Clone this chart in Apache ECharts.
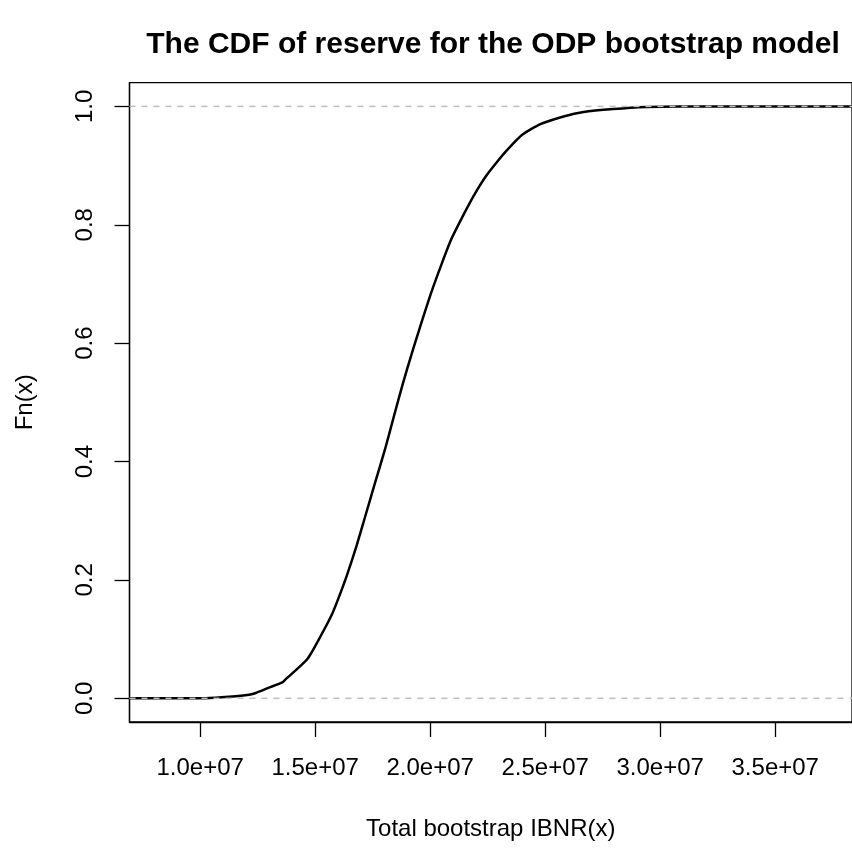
<!DOCTYPE html>
<html>
<head>
<meta charset="utf-8">
<script src="https://cdn.jsdelivr.net/npm/echarts@6/dist/echarts.min.js"></script>
<style>html,body{margin:0;padding:0;background:#fff;}#c{width:852px;height:849px;}</style>
</head>
<body>
<div id="c"></div>
<script>
// Data (x in units of 1e7)
var cdfX = [0.6926, 0.95, 1.04, 1.155, 1.213, 1.242, 1.299, 1.357, 1.371, 1.465, 1.522, 1.573, 1.600, 1.637, 1.680, 1.724, 1.760, 1.803, 1.846, 1.882, 1.925, 1.958, 2.004, 2.047, 2.091, 2.149, 2.192, 2.242, 2.292, 2.336, 2.400, 2.479, 2.580, 2.667, 2.796, 2.940, 3.084, 3.8338];
var cdfY = [0, 0, 0.0005, 0.0034, 0.006, 0.009, 0.018, 0.027, 0.032, 0.066, 0.104, 0.142, 0.168, 0.207, 0.258, 0.316, 0.364, 0.420, 0.482, 0.533, 0.589, 0.630, 0.685, 0.731, 0.775, 0.820, 0.851, 0.882, 0.907, 0.927, 0.952, 0.970, 0.983, 0.9905, 0.9955, 0.999, 1.0, 1.0];
var xTicks = [1.0e7, 1.5e7, 2.0e7, 2.5e7, 3.0e7, 3.5e7];
var xTickLabels = ['1.0e+07', '1.5e+07', '2.0e+07', '2.5e+07', '3.0e+07', '3.5e+07'];
var yTicks = [0, 0.2, 0.4, 0.6, 0.8, 1.0];
var yTickLabels = ['0.0', '0.2', '0.4', '0.6', '0.8', '1.0'];
var hLines = [0, 1];
var xMin = 0.6926e7, xMax = 3.8338e7, yMin = -0.04, yMax = 1.04;

var FONT = 'Liberation Sans, Arial, Helvetica, sans-serif';
var chart = echarts.init(document.getElementById('c'), null, {renderer: 'canvas'});
var lineData = cdfX.map(function (x, i) { return [x * 1e7, cdfY[i]]; });
var labelMap = {};
xTicks.forEach(function (v, i) { labelMap[v] = xTickLabels[i]; });

var series = [{
  type: 'line',
  data: lineData,
  showSymbol: false,
  smooth: 0.2,
  lineStyle: {color: '#000', width: 2.5},
  z: 2,
  silent: true
}];
hLines.forEach(function (h) {
  series.push({
    type: 'line',
    data: [[xMin, h], [xMax, h]],
    showSymbol: false,
    lineStyle: {color: '#bebebe', width: 1.5, type: [6, 6]},
    z: 3,
    silent: true
  });
});

chart.setOption({
  animation: false,
  backgroundColor: '#fff',
  graphic: [{
    type: 'text',
    x: 493, y: 45,
    style: {
      text: 'The CDF of reserve for the ODP bootstrap model',
      font: 'bold 30px ' + FONT,
      fill: '#000',
      textAlign: 'center',
      textVerticalAlign: 'middle'
    }
  }],
  grid: {
    left: 129.5, top: 82.7, right: -5, bottom: 127,
    show: true, borderColor: '#000', borderWidth: 1.3, backgroundColor: 'transparent'
  },
  xAxis: {
    type: 'value', min: xMin, max: xMax,
    name: 'Total bootstrap IBNR(x)', nameLocation: 'middle', nameGap: 95,
    nameTextStyle: {fontFamily: FONT, fontSize: 24, color: '#000'},
    axisLine: {show: true, onZero: false, lineStyle: {color: '#000', width: 1.3}},
    axisTick: {show: true, inside: false, length: 15, customValues: xTicks, lineStyle: {color: '#000', width: 1.3}},
    axisLabel: {
      customValues: xTicks, margin: 34, fontFamily: FONT, fontSize: 24, color: '#000',
      formatter: function (v) { return labelMap[v] || ''; }
    },
    splitLine: {show: false}
  },
  yAxis: {
    type: 'value', min: yMin, max: yMax,
    name: 'Fn(x)', nameLocation: 'middle', nameGap: 92, nameRotate: 90,
    nameTextStyle: {fontFamily: FONT, fontSize: 24, color: '#000'},
    axisLine: {show: true, onZero: false, lineStyle: {color: '#000', width: 1.3}},
    axisTick: {show: true, inside: false, length: 15, customValues: yTicks, lineStyle: {color: '#000', width: 1.3}},
    axisLabel: {
      customValues: yTicks, margin: 32, rotate: 90, fontFamily: FONT, fontSize: 24, color: '#000',
      formatter: function (v) {
        var i = yTicks.indexOf(Math.round(v * 10) / 10);
        return i >= 0 ? yTickLabels[i] : '';
      }
    },
    splitLine: {show: false}
  },
  series: series
});
</script>
</body>
</html>
